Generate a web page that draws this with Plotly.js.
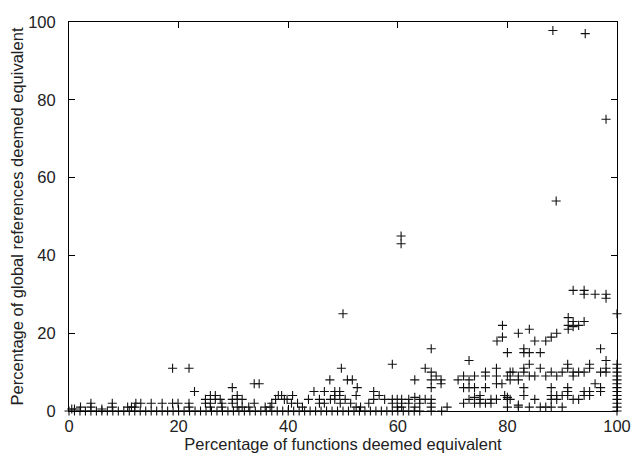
<!DOCTYPE html>
<html>
<head>
<meta charset="utf-8">
<script src="https://cdn.plot.ly/plotly-3.0.1.min.js"></script>
<style>html,body{margin:0;padding:0;background:#fff;}</style>
</head>
<body>
<div id="chart" style="width:631px;height:461px;"></div>
<script>
// Points: x = % of functions deemed equivalent, y = % of global references
const baseX = [0,1,2,3,4,5,6,7,8,9,10,11,12,13,14,15,16,17,18,19,20,21,22,23,24,25,26,27,28,29,30,31,32,33,34,35,36,37,38,39,40,41,42,43,44,45,46,47,48,49,50,51,52,53,54,55,56,57,58,59,60,61,62,63,64,66.1,68];
const baseY = [0,0,0,0,0,0,0,0,0,0,0,0,0,0,0,0,0,0,0,0,0,0,0,0,0,0,0,0,0,0,0,0,0,0,0,0,0,0,0,0,0,0,0,0,0,0,0,0,0,0,0,0,0,0,0,0,0,0,0,0,0,0,0,0,0,0,0];

const leftX = [0.5,1,2.1,4,4,6,7.9,7.9,10.7,11.4,12,12.2,13.1,15,17,18.9,18.9,19.9,21.9,21.9,21.9,22.9,24.9,24.9,25.8,25.8,25.8,26.7,26.7,27.6,27.9,27.9,29.8,29.8,29.8,30.7,30.7,31.6,30.7,31.6,32.8,33.8,34.7,33.8,35.8,36.7,37,37.7,38.2,38.8,39.3];
const leftY = [0.5,0.5,1,1,2,0.5,1,2,1,1,1,2,2,2,2,2,11,2,11,2,1,5,3,2,4,2,1,4,3,3,2,1,6,3,2,4,3,3,1,1,1,7,7,2,1,1,2,3,4,4,3];

const midX = [39.8,40.8,40.6,41.7,42.6,43.7,44.7,45.7,45.7,46.6,46.6,47.6,47.7,48.5,48.5,48.5,49.4,49.4,49.5,49.7,50,50.4,50.8,51.7,51.4,52.4,52.6,52.4,53.2,54.7,55.6,55.6,56.6,57.6,59,59,59,59.9,59.9,60.6,60.6];
const midY = [3,4,2,2,1,3,5,3,2,5,2,8,3,5,4,3,5,4,2,11,25,3,8,8,2,4,6,1,1,2,5,3,4,3,12,3,2,3,1,45,43];

const upX = [79.1,78.1,79.1,80,73,66.1,65,66.1,67,67.9,67.9,66.1,63.1,66.1,71,72,72,73,73,74,74,76,76,76,78,78,78,79,80,81,60.7,60.7,60.7,62,62,63.1,63.1,64,64,65,66.1,66.1,66.1,69,72,73,74,75,74,75,76,77,78,80,80,80,75,77];
const upY = [22,18,19,15,13,16,11,10,9,8,7,8,8,6,8,9,6,8,6,6,9,10,9,6,11,9,7,7,9,10,3,2,1,2,3,3.5,1,3,2,3,3,2,1,1,2,3,3.5,2,2,3,2,3,3,3.5,3,1,4,2];

const rightX = [92,94,94,96,98,98,91.1,91.1,91.1,92,92,93,94,97,98,98,98,97,89,88,87,85,84,82,83,83,84,86,84,83,86,88,89,90,91,91,92,92,93,94,95,95,80.5,80.5,82,82,83,84,85,87,96,97,97,88,83,83,91,91,91,94,94,95,95,90,92,93,88,89,88,89,85,82,82,84,86,87,88,90,79.5,80.5];
const rightY = [31,31,30,30,30,29,24,22,21,23,21.7,22,23,16,13,11,10,10,20,19,18,18,21,20,16,15,15,15,12,11,11,10,9,10,12,11,10,9,10,10,12,11,10,8,9,8,10,9,9,9,7,6,5,6,6,4,6,5,4,5,4,5,4,4,3,3,4,4,3,3,3,1.5,1,1,1,1,1,1,4,3];

const edgeX = [100,100,100,100,100,100,100,100,100,100,100,100,100,100,88.9,98,94.2,88.3];
const edgeY = [0,1,2,3,4,5,6,7,8,9,10,11,12,25,54,75,97,97.8];

const xTicks = [0,20,40,60,80,100];
const yTicks = [0,20,40,60,80,100];

const xs = [].concat(baseX, leftX, midX, upX, rightX, edgeX);
const ys = [].concat(baseY, leftY, midY, upY, rightY, edgeY);

const font = 'Liberation Sans, Arial, Helvetica, sans-serif';

const trace = {
  x: xs, y: ys, type: 'scatter', mode: 'markers', cliponaxis: false,
  marker: {symbol: 'cross-thin', size: 6.5, color: '#000', line: {width: 1.1, color: '#111'}},
  hoverinfo: 'x+y'
};

const axisBase = {
  range: [0, 100], showgrid: false, zeroline: false, showline: true, mirror: 'ticks',
  linecolor: '#000', linewidth: 1, ticks: 'inside', ticklen: 6, tickcolor: '#000', tickwidth: 1,
  ticklabeloverflow: 'allow',
  tickfont: {family: font, size: 16.5, color: '#222'}
};

const layout = {
  width: 631, height: 461,
  margin: {l: 69, r: 14, t: 22, b: 50},
  paper_bgcolor: '#fff', plot_bgcolor: '#fff', showlegend: false,
  xaxis: Object.assign({}, axisBase, {
    tickvals: xTicks, ticktext: xTicks.map(String),
    title: {text: 'Percentage of functions deemed equivalent', font: {family: font, size: 16.5, color: '#222'}, standoff: 0}
  }),
  yaxis: Object.assign({}, axisBase, {
    tickvals: yTicks, ticktext: yTicks.map(String), ticklabelstandoff: 9,
    title: {text: 'Percentage of global references deemed equivalent', font: {family: font, size: 16.5, color: '#222'}, standoff: 0}
  })
};

Plotly.newPlot('chart', [trace], layout, {displayModeBar: false, staticPlot: true});
</script>
</body>
</html>
